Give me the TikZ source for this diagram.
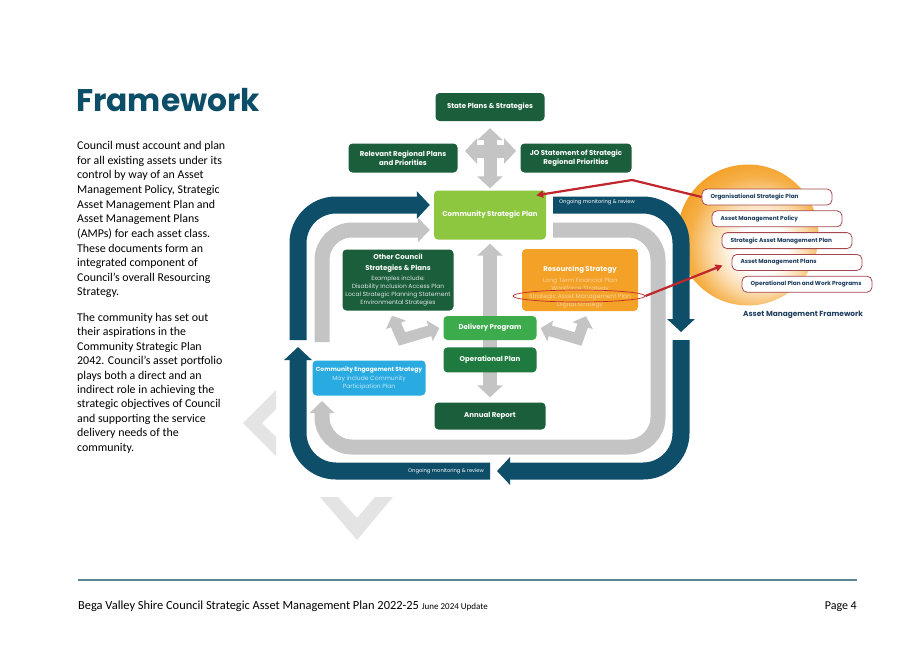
\documentclass[tikz,border=0pt]{standalone}
\usepackage{fontspec}
\setmainfont{Carlito}
\newfontfamily\gothic{Poppins}
\usetikzlibrary{arrows.meta,positioning,calc,shapes.geometric}
\definecolor{Navy}{HTML}{0E4E68}
\definecolor{Teal}{HTML}{0C4D68}
\definecolor{Forest}{HTML}{1B5E3B}
\definecolor{Leaf}{HTML}{8DC63F}
\definecolor{Grass}{HTML}{3CAB4B}
\definecolor{Pine}{HTML}{1F7A3F}
\definecolor{Amber}{HTML}{F4A127}
\definecolor{Sky}{HTML}{29ABE2}
\definecolor{Silver}{HTML}{C4C4C4}
\definecolor{Mist}{HTML}{E4E4E4}
\definecolor{Crimson}{HTML}{C0272D}
\definecolor{Rust}{HTML}{A5474F}
\definecolor{Ink}{HTML}{1D3E5E}
\definecolor{Rule}{HTML}{5A8595}
\colorlet{OtherSub}{white!85!Forest}
\colorlet{ResSub}{white!55!Amber}
\colorlet{CesSub}{white!72!Sky}
\pgfdeclareradialshading{glow}{\pgfpoint{6bp}{-6bp}}{color(0bp)=(white);
  color(9bp)=(white);color(17bp)=(Amber!40);color(24bp)=(Amber!85);color(29bp)=(Amber);color(50bp)=(Amber)}
\pgfdeclarelayer{backdrop}
\pgfdeclarelayer{bands}
\pgfsetlayers{backdrop,bands,main}
\newcommand\fine[2]{{\mdseries\fontsize{6}{8}\selectfont\color{#1}#2}}
\newcommand\amstext[1]{\makebox[113pt][l]{#1}}
\tikzset{
  planbox/.style={rounded corners=4pt,fill=Forest,text=white,align=center,inner sep=1pt,
    font=\gothic\bfseries\fontsize{7}{8}\selectfont},
  amsbox/.style={draw=Rust,fill=white,rounded corners=5pt,line width=.8pt,text=Ink,
    inner xsep=8.5pt,inner ysep=0pt,minimum height=16pt,
    font=\gothic\bfseries\fontsize{5.8}{7}\selectfont},
  navyband/.style={draw=Navy,line width=17pt,rounded corners=38pt,
    -{Triangle[length=13pt,width=27pt]}},
  greyband/.style={draw=Silver,line width=15pt,rounded corners=30pt,
    -{Triangle[length=12pt,width=24pt]}},
  greyboth/.style={draw=Silver,line width=13pt,
    {Triangle[length=12pt,width=25pt]}-{Triangle[length=12pt,width=25pt]}},
  greybent/.style={draw=Silver,line width=11pt,
    {Triangle[length=10pt,width=21pt]}-{Triangle[length=10pt,width=21pt]}},
  redlink/.style={draw=Crimson,line width=2.2pt,-{Triangle[length=7pt,width=7pt]}},
  review/.style={text=white,font=\gothic\fontsize{5.2}{6}\selectfont,inner sep=0}
}

\begin{document}
\begin{tikzpicture}[x=1pt,y=-1pt,node distance=7pt]
\useasboundingbox (0,0) rectangle (917,649);

% left column text
\node[anchor=base west,inner sep=0,text=Teal,font=\gothic\bfseries\fontsize{31.3}{32}\selectfont]
  (title) at (76,111) {Framework};
\node[anchor=north west,inner sep=0,align=left,font=\fontsize{11.9}{14.65}\selectfont]
  (para1) at (77,141) {Council must account and plan\\for all existing assets under its\\control by way of an Asset\\Management Policy, Strategic\\Asset Management Plan and\\Asset Management Plans\\(AMPs) for each asset class.\\These documents form an\\integrated component of\\Council’s overall Resourcing\\Strategy.};
\node[anchor=north west,inner sep=0,align=left,font=\fontsize{11.9}{14.4}\selectfont]
  (para2) at (77,313) {The community has set out\\their aspirations in the\\Community Strategic Plan\\2042. Council’s asset portfolio\\plays both a direct and an\\indirect role in achieving the\\strategic objectives of Council\\and supporting the service\\delivery needs of the\\community.};

% planning framework
\node[planbox,minimum width=109pt,minimum height=28pt] (state) at (490,107) {State Plans \& Strategies};
\node[planbox,minimum width=109pt,minimum height=29pt] (regional) at (403,158) {Relevant Regional Plans\\[1.5pt]and Priorities};
\node[planbox,minimum width=111pt,minimum height=29pt] (jo) at (576,158) {JO Statement of Strategic\\[1.5pt]Regional Priorities};
\node[planbox,fill=Leaf,minimum width=112pt,minimum height=49pt] (csp) at (490,215) {Community Strategic Plan};
\node[planbox,minimum width=111pt,minimum height=61pt] (other) at (398,280)
  {Other Council\\[3.5pt]Strategies \& Plans\\[2pt]\fine{OtherSub}{Examples include:}\\\fine{OtherSub}{Disability Inclusion Access Plan}\\\fine{OtherSub}{Local Strategic Planning Statement}\\\fine{OtherSub}{Environmental Strategies}};
\node[planbox,fill=Amber,minimum width=116pt,minimum height=62pt] (res) at (580,280)
  {\rule{0pt}{19pt}Resourcing Strategy\\[3pt]\fine{ResSub}{Long Term Financial Plan}\\\fine{ResSub}{Workforce Strategy}\\\fine{ResSub}{Strategic Asset Management Plan}\\\fine{ResSub}{Digital Strategy}};
\node[planbox,fill=Grass,minimum width=93pt,minimum height=24pt] (dp) at (490,328) {Delivery Program};
\node[planbox,fill=Pine,minimum width=93pt,minimum height=25pt,below=of dp] (op) {Operational Plan};
\node[planbox,fill=Sky,minimum width=113pt,minimum height=35pt,font=\gothic\bfseries\fontsize{6}{8}\selectfont] (ces) at (369,378)
  {Community Engagement Strategy\\[1pt]\fine{CesSub}{May include Community}\\\fine{CesSub}{Participation Plan}};
\node[planbox,minimum width=111pt,minimum height=27pt] (ar) at (490,416) {Annual Report};
\node[review] (rev1) at (597,202) {Ongoing monitoring \& review};
\node[review] (rev2) at (446,471) {Ongoing monitoring \& review};
\coordinate (hub) at (490,151);

% asset management framework
\node[amsbox] (ams1) at (767,197) {\amstext{Organisational Strategic Plan}};
\node[amsbox,below=5pt of ams1,xshift=10pt] (ams2) {\amstext{Asset Management Policy}};
\node[amsbox,below=5pt of ams2,xshift=10pt] (ams3) {\amstext{Strategic Asset Management Plan}};
\node[amsbox,below=5pt of ams3,xshift=10pt] (ams4) {\amstext{Asset Management Plans}};
\node[amsbox,below=5pt of ams4,xshift=10pt] (ams5) {\amstext{Operational Plan and Work Programs}};
\node[text=Ink,font=\gothic\bfseries\fontsize{7.4}{8}\selectfont] (amf) at (803,315) {Asset Management Framework};
\node[draw=Crimson,line width=.7pt,ellipse,minimum width=132pt,minimum height=12pt,inner sep=0] (samp) at (579,296) {};

\begin{pgfonlayer}{backdrop}
  \fill[white] (0,0) rectangle (917,649);
  \fill[Mist] (276,390) -- (243,423) -- (276,456) -- (276,437) -- (262,423) -- (276,409) -- cycle;
  \fill[Mist] (320,497) -- (357,540) -- (393,497) -- (375,497) -- (357,518) -- (338,497) -- cycle;
  \node[circle,minimum size=141pt,inner sep=0,shading=glow] (sphere) at (748,235) {};
\end{pgfonlayer}

\begin{pgfonlayer}{bands}
  % outer loop
  \draw[navyband] (298,340) -- (298,205) -- ([xshift=-4pt,yshift=10pt]csp.west);
  \draw[navyband] ([xshift=7pt,yshift=10pt]csp.east) -- (681,205) -- (681,332);
  \draw[navyband] (681,340) -- (681,471) -- (497,471);
  \draw[navyband] (490,471) -- (298,471) -- (298,347);
  % inner loop
  \draw[greyband] (322,342) -- (322,230) -- ([xshift=-4pt,yshift=-15pt]csp.west);
  \draw[greyband] ([xshift=7pt,yshift=-15pt]csp.east) -- (658,230) -- (658,447) -- (322,447) -- (322,401);
  % links
  \draw[greyboth] ([yshift=-7pt]state.south) -- ([yshift=2pt]csp.north);
  \draw[greyboth] ([xshift=-25pt]hub) -- ([xshift=26pt]hub);
  \draw[greyboth,line width=14pt] ([yshift=-4pt]csp.south) -- ([yshift=5pt]ar.north);
  \draw[greybent] ([xshift=-6pt,yshift=-5pt]other.south) -- (402,339) -- ([xshift=-4pt]dp.west);
  \draw[greybent] ([xshift=6pt,yshift=-5pt]res.south) -- (578,339) -- ([xshift=4pt]dp.east);
\end{pgfonlayer}

\draw[redlink] (ams1.west) -- (632,180) -- ([xshift=-10pt,yshift=-5pt]csp.north east);
\draw[redlink] (samp.east) -- ([xshift=-9pt,yshift=-3pt]ams4.west);

% footer
\draw[Rule,line width=1.4pt] (78,580) -- (857,580);
\node[anchor=base west,inner sep=0,font=\fontsize{12.4}{14}\selectfont] (foot) at (78,609)
  {Bega Valley Shire Council Strategic Asset Management Plan 2022-25 {\fontsize{9}{10}\selectfont June 2024 Update}};
\node[anchor=base east,inner sep=0,font=\fontsize{12}{14}\selectfont] (page) at (857,609) {Page 4};
\end{tikzpicture}
\end{document}
